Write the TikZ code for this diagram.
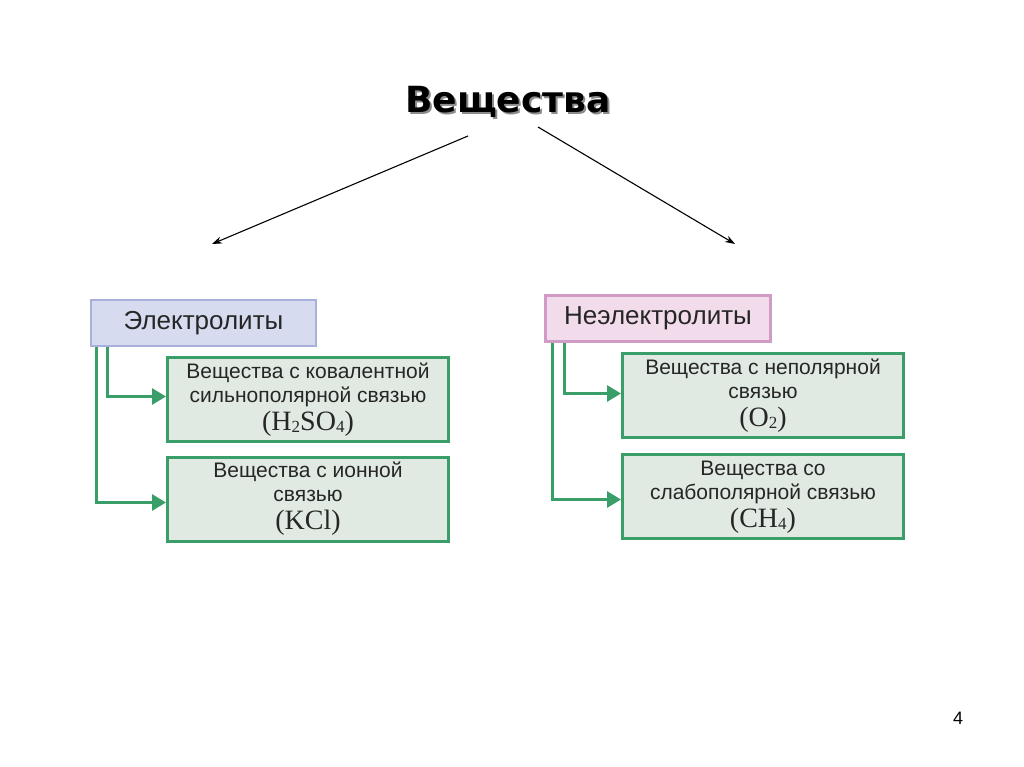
\documentclass[tikz,border=0pt]{standalone}
\usepackage{fontspec}
\setmainfont{Liberation Sans}
\newfontfamily\serifF{Liberation Serif}
\newfontfamily\titleF{DejaVu Sans}
\usetikzlibrary{arrows.meta}
\definecolor{gfill}{HTML}{E0EAE2}
\definecolor{gline}{HTML}{3A9E69}
\definecolor{bfill}{HTML}{D6DBF0}
\definecolor{bline}{HTML}{A7B0DA}
\definecolor{pfill}{HTML}{F2DCEC}
\definecolor{pline}{HTML}{D09BC4}
\tikzset{
  gbox/.style={draw=gline, fill=gfill, line width=3pt, minimum width=281pt, minimum height=84pt, inner sep=0pt},
  hbox/.style={line width=2.5pt, minimum width=225pt, minimum height=46pt, inner sep=0pt, font=\fontsize{26}{30}\selectfont, text=black!85},
  btext/.style={align=center, font=\fontsize{21}{24}\selectfont, text=black!85},
  garrow/.style={draw=gline, line width=3pt, -{Triangle[length=14pt,width=16pt]}},
  karrow/.style={draw=black, line width=1.1pt, -{Stealth[length=10pt,width=7pt]}}
}
\newcommand{\frm}[1]{{\serifF\fontsize{28}{28}\selectfont #1}}
\newcommand{\sbs}[1]{\raisebox{-2pt}{\fontsize{17}{17}\selectfont #1}}
\begin{document}
\begin{tikzpicture}[x=1pt,y=-1pt]
\useasboundingbox (0,0) rectangle (1024,767);
\fill[white] (0,0) rectangle (1024,767);
% title
\node[text=black!45, font=\titleF\bfseries\fontsize{36}{40}\selectfont] (tshadow) at (510,104) {Вещества};
\node[font=\titleF\bfseries\fontsize{36}{40}\selectfont] (title) at (508,102) {Вещества};
\coordinate (tl) at (468,136);
\coordinate (tr) at (538,127);
\coordinate (al) at (212,244);
\coordinate (ar) at (735,244);
\draw[karrow] (tl) -- (al);
\draw[karrow] (tr) -- (ar);
% left
\node[hbox, draw=bline, fill=bfill] (eh) at (203.5,323) {Электролиты};
\node[gbox] (e1) at (308,399.5) {};
\node[gbox] (e2) at (308,499.5) {};
\node[btext] (e1t) at (308,400) {Вещества с ковалентной\\сильнополярной связью\\[4pt]\frm{(H\sbs{2}SO\sbs{4})}};
\node[btext] (e2t) at (308,499) {Вещества с ионной\\связью\\[4pt]\frm{(KCl)}};
\draw[garrow] ([xshift=18pt]eh.south west) |- ([yshift=3pt]e1.west);
\draw[garrow] ([xshift=7pt]eh.south west) |- ([yshift=-3pt]e2.west);
% right
\node[hbox, draw=pline, fill=pfill] (nh) at (658,318.5) {Неэлектролиты};
\node[gbox] (n1) at (763,395.5) {};
\node[gbox] (n2) at (763,496.5) {};
\node[btext] (n1t) at (763,396) {Вещества с неполярной\\связью\\[4pt]\frm{(O\sbs{2})}};
\node[btext] (n2t) at (763,497) {Вещества со\\слабополярной связью\\[4pt]\frm{(CH\sbs{4})}};
\draw[garrow] ([xshift=20pt]nh.south west) |- ([yshift=2pt]n1.west);
\draw[garrow] ([xshift=8pt]nh.south west) |- ([yshift=-3pt]n2.west);
% page number
\node[font=\fontsize{18}{20}\selectfont] (pg) at (958,718) {4};
\end{tikzpicture}
\end{document}
